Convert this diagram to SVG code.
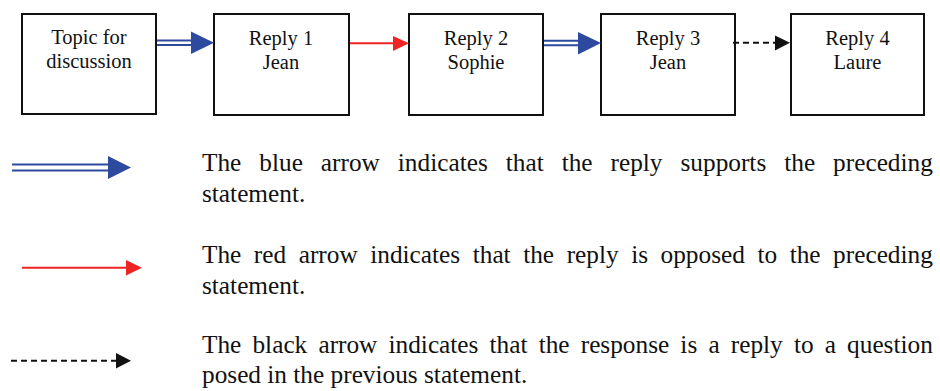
<svg xmlns="http://www.w3.org/2000/svg" width="940" height="391" viewBox="0 0 940 391">
<style>
.box{fill:#fff;stroke:#111;stroke-width:2}
.bt{font-family:"Liberation Serif","Times New Roman",serif;font-size:20.5px;fill:#111;text-anchor:middle}
.lt{font-family:"Liberation Serif","Times New Roman",serif;font-size:25.3px;fill:#111}
.blue{stroke:#2E4A9E;stroke-width:2;fill:none}
.bluehead{fill:#2E4A9E}
.red{stroke:#EE2424;stroke-width:2;fill:none}
.redhead{fill:#EE2424}
.dash{stroke:#111;stroke-width:2;stroke-dasharray:6,4;fill:none}
.blackhead{fill:#111}
</style>
<rect width="940" height="391" fill="#fff"/>
<g id="node-topic">
<rect class="box" x="22" y="14" width="134" height="100"/>
<text class="bt" x="89" y="44">Topic for</text>
<text class="bt" x="89" y="68">discussion</text>
</g>
<g id="node-reply1">
<rect class="box" x="214" y="14" width="135" height="101"/>
<text class="bt" x="281" y="45">Reply 1</text>
<text class="bt" x="281" y="69">Jean</text>
</g>
<g id="node-reply2">
<rect class="box" x="409" y="14" width="134" height="101"/>
<text class="bt" x="476" y="45">Reply 2</text>
<text class="bt" x="476" y="69">Sophie</text>
</g>
<g id="node-reply3">
<rect class="box" x="601" y="14" width="134" height="101"/>
<text class="bt" x="668" y="45">Reply 3</text>
<text class="bt" x="668" y="69">Jean</text>
</g>
<g id="node-reply4">
<rect class="box" x="791" y="14" width="133" height="101"/>
<text class="bt" x="857.5" y="45">Reply 4</text>
<text class="bt" x="857.5" y="69">Laure</text>
</g>
<g id="connectors">
<line class="blue" x1="157" y1="40.5" x2="192" y2="40.5"/>
<line class="blue" x1="157" y1="45" x2="192" y2="45"/>
<polygon class="bluehead" points="191,31.5 214,42.8 191,54"/>
<line class="red" x1="350" y1="43.3" x2="394" y2="43.3"/>
<polygon class="redhead" points="393,36 409,43.3 393,51"/>
<line class="blue" x1="544" y1="40.8" x2="579" y2="40.8"/>
<line class="blue" x1="544" y1="45.3" x2="579" y2="45.3"/>
<polygon class="bluehead" points="578,32 601,43 578,54.5"/>
<line class="dash" x1="733" y1="42.7" x2="776" y2="42.7"/>
<polygon class="blackhead" points="775,35.5 790,42.7 775,50.5"/>
</g>
<g id="legend">
<line class="blue" x1="12" y1="164.5" x2="110" y2="164.5"/>
<line class="blue" x1="12" y1="170.5" x2="110" y2="170.5"/>
<polygon class="bluehead" points="108,156 131,167.5 108,179"/>
<text class="lt" x="202" y="171" word-spacing="11.66">The blue arrow indicates that the reply supports the preceding</text>
<text class="lt" x="202" y="202">statement.</text>
<line class="red" x1="22" y1="267.7" x2="128" y2="267.7"/>
<polygon class="redhead" points="126,260 142,267.7 126,275.5"/>
<text class="lt" x="202" y="263" word-spacing="6.22">The red arrow indicates that the reply is opposed to the preceding</text>
<text class="lt" x="202" y="294">statement.</text>
<line class="dash" x1="11" y1="360.7" x2="117" y2="360.7"/>
<polygon class="blackhead" points="116,353 131,360.7 116,368.5"/>
<text class="lt" x="202" y="353" word-spacing="4.82">The black arrow indicates that the response is a reply to a question</text>
<text class="lt" x="202" y="383">posed in the previous statement.</text>
</g>
</svg>
